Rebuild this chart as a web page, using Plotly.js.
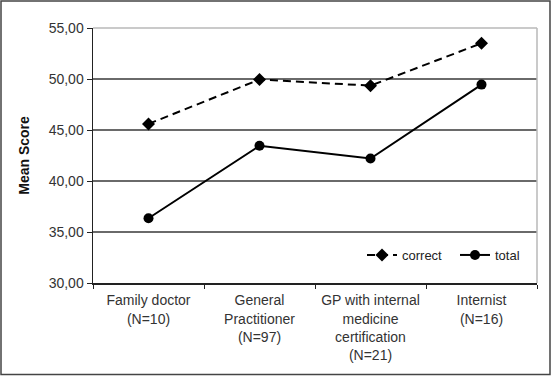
<!DOCTYPE html>
<html>
<head>
<meta charset="utf-8">
<script src="https://cdn.plot.ly/plotly-3.0.1.min.js"></script>
<style>
html,body{margin:0;padding:0;background:#fff;}
#chart{width:552px;height:376px;}
</style>
</head>
<body>
<div id="chart"></div>
<script>
var categories = [
  "Family doctor<br>(N=10)",
  "General<br>Practitioner<br>(N=97)",
  "GP with internal<br>medicine<br>certification<br>(N=21)",
  "Internist<br>(N=16)"
];
var correctValues = [45.6, 49.95, 49.35, 53.5];
var totalValues = [36.35, 43.45, 42.2, 49.45];
var yTickValues = [30, 35, 40, 45, 50, 55];

var traces = [
  {
    x: categories, y: correctValues, name: "correct", type: "scatter", mode: "lines+markers",
    line: {color: "#000", width: 2, dash: "8px,5px"},
    marker: {symbol: "diamond", size: 10, color: "#000"},
    legend: "legend"
  },
  {
    x: categories, y: totalValues, name: "total", type: "scatter", mode: "lines+markers",
    line: {color: "#000", width: 2},
    marker: {symbol: "circle", size: 10, color: "#000"},
    legend: "legend2"
  }
];

var L = 93, R = 15, T = 28, B = 93, W = 552, H = 376;
var pw = W - L - R, ph = H - T - B;
function px(p){ return (p - L) / pw; }
function py(p){ return (H - B - p) / ph; }

var legendCommon = {
  orientation: "h", xanchor: "left", y: py(255), yanchor: "middle",
  bgcolor: "rgba(0,0,0,0)", font: {size: 13, color: "#222"}, itemwidth: 30
};

var layout = {
  width: W, height: H,
  margin: {l: L, r: R, t: T, b: B, autoexpand: false},
  paper_bgcolor: "#fff", plot_bgcolor: "#fff",
  separators: ",.",
  font: {family: "Liberation Sans, Arial, sans-serif", size: 14, color: "#333"},
  showlegend: true,
  legend: Object.assign({}, legendCommon, {x: px(362)}),
  legend2: Object.assign({}, legendCommon, {x: px(455)}),
  xaxis: {
    type: "category", range: [-0.5, 3.5], showgrid: false, zeroline: false,
    showline: true, linecolor: "#222", linewidth: 1.5,
    ticks: "outside", ticklen: 4, tickcolor: "#222", tickson: "boundaries",
    tickangle: 0, ticklabelstandoff: 4, automargin: false,
    tickfont: {size: 14, color: "#333"}, fixedrange: true
  },
  yaxis: {
    range: [30, 55], tickvals: yTickValues, tickformat: ".2f",
    showgrid: true, gridcolor: "#6a6a6a", gridwidth: 1.2, zeroline: false,
    showline: true, linecolor: "#222", linewidth: 1.5,
    ticks: "outside", ticklen: 5, tickcolor: "#222", automargin: false,
    tickfont: {size: 14, color: "#333"},
    title: {text: "<b>Mean Score</b>", font: {size: 14, color: "#111"}, standoff: 16},
    fixedrange: true
  },
  shapes: [
    {type: "line", xref: "paper", yref: "paper", x0: 0, x1: 1, y0: 1, y1: 1, line: {color: "#b8b8b8", width: 1.5}},
    {type: "line", xref: "paper", yref: "paper", x0: 1, x1: 1, y0: 0, y1: 1, line: {color: "#b8b8b8", width: 1.5}},
    {type: "rect", xref: "paper", yref: "paper", x0: px(1), x1: px(550), y0: py(374.5), y1: py(1), line: {color: "#444", width: 1.5}}
  ]
};

Plotly.newPlot("chart", traces, layout, {displayModeBar: false, staticPlot: true});
</script>
</body>
</html>
